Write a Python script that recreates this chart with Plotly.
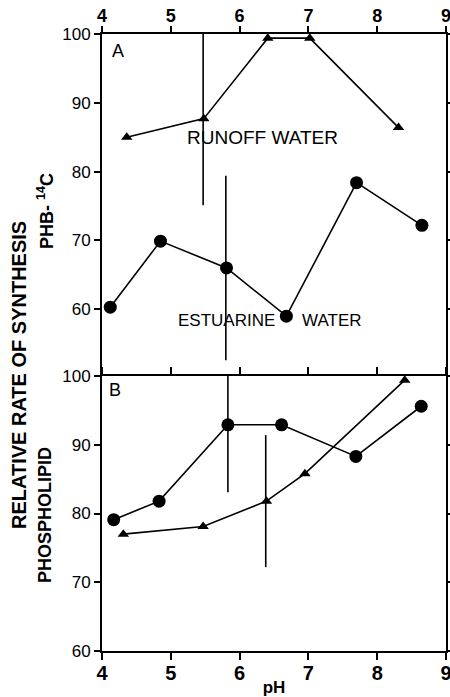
import plotly.graph_objects as go

# ---------------- data ----------------
# Panel A: PHB-14C
a_runoff_ph = [4.36, 5.48, 6.41, 7.02, 8.31]
a_runoff_val = [85.0, 87.7, 99.4, 99.4, 86.4]
a_estuarine_ph = [4.12, 4.85, 5.81, 6.68, 7.70, 8.65]
a_estuarine_val = [60.3, 69.9, 66.0, 59.0, 78.4, 72.2]
a_bar_ph = [5.47, 5.80]
a_bar_lo = [75.1, 52.6]
a_bar_hi = [100.0, 79.4]

# Panel B: Phospholipid
b_estuarine_ph = [4.17, 4.83, 5.83, 6.61, 7.69, 8.64]
b_estuarine_val = [79.1, 81.8, 92.9, 92.9, 88.3, 95.6]
b_runoff_ph = [4.31, 5.47, 6.39, 6.95, 8.40]
b_runoff_val = [77.0, 78.1, 81.8, 85.8, 99.4]
b_bar_ph = [5.83, 6.38]
b_bar_lo = [83.1, 72.2]
b_bar_hi = [100.0, 91.4]

x_ticks = [4, 5, 6, 7, 8, 9]
a_yticks = [60, 70, 80, 90, 100]
b_yticks = [60, 70, 80, 90, 100]

# ---------------- figure ----------------
FONT = "Liberation Sans, Arial, sans-serif"
W, H = 450, 697
L, R, T, B = 102, 4, 34, 46
plot_h = H - T - B
split = 275 / plot_h

fig = go.Figure()

def add_panel(xa, ya, runoff_ph, runoff_val, est_ph, est_val, bar_ph, bar_lo, bar_hi):
    for x, lo, hi in zip(bar_ph, bar_lo, bar_hi):
        fig.add_trace(go.Scatter(x=[x, x], y=[lo, hi], mode="lines",
                                 line=dict(color="black", width=1.6),
                                 xaxis=xa, yaxis=ya, showlegend=False,
                                 cliponaxis=False, hoverinfo="skip"))
    fig.add_trace(go.Scatter(x=runoff_ph, y=runoff_val, mode="lines+markers",
                             line=dict(color="black", width=1.6),
                             marker=dict(symbol="triangle-up", size=10, color="black"),
                             xaxis=xa, yaxis=ya, showlegend=False, cliponaxis=False))
    fig.add_trace(go.Scatter(x=est_ph, y=est_val, mode="lines+markers",
                             line=dict(color="black", width=1.6),
                             marker=dict(symbol="circle", size=13, color="black"),
                             xaxis=xa, yaxis=ya, showlegend=False, cliponaxis=False))

add_panel("x", "y", a_runoff_ph, a_runoff_val, a_estuarine_ph, a_estuarine_val,
          a_bar_ph, a_bar_lo, a_bar_hi)
add_panel("x2", "y2", b_runoff_ph, b_runoff_val, b_estuarine_ph, b_estuarine_val,
          b_bar_ph, b_bar_lo, b_bar_hi)

axis_common = dict(showgrid=False, zeroline=False, linecolor="black", linewidth=2,
                   ticks="outside", tickcolor="black", tickwidth=1.6,
                   showline=True, automargin=False, ticklabeloverflow="allow")

fig.update_layout(
    width=W, height=H,
    margin=dict(l=L, r=R, t=T, b=B),
    paper_bgcolor="white", plot_bgcolor="white",
    font=dict(family=FONT, color="black"),
    xaxis=dict(axis_common, domain=[0, 1], range=[4, 9], anchor="y", side="top",
               tickvals=x_ticks, ticklen=6, mirror=False, ticklabelstandoff=-3,
               tickfont=dict(size=18, family=FONT, weight="bold")),
    yaxis=dict(axis_common, domain=[split, 1], range=[50.3, 100], anchor="x",
               tickvals=a_yticks, ticklen=6, mirror="ticks",
               tickfont=dict(size=17, family=FONT)),
    xaxis2=dict(axis_common, domain=[0, 1], range=[4, 9], anchor="y2", side="bottom",
                tickvals=x_ticks, ticklen=7, mirror="ticks", ticklabelstandoff=-4,
                tickfont=dict(size=20, family=FONT, weight="bold"),
                title=dict(text="pH", font=dict(size=17, family=FONT, weight="bold"),
                           standoff=2)),
    yaxis2=dict(axis_common, domain=[0, split], range=[60, 100], anchor="x2",
                tickvals=b_yticks, ticklen=6, mirror="ticks",
                tickfont=dict(size=17, family=FONT)),
)

def px_to_paper(px, py):
    return (px - L) / (W - L - R), (H - B - py) / plot_h

annots = []
ax, ay = px_to_paper(19, 375)
annots.append(dict(text="RELATIVE RATE OF SYNTHESIS", x=ax, y=ay, xref="paper", yref="paper",
                   textangle=-90, showarrow=False, xanchor="center", yanchor="middle",
                   font=dict(size=20, family=FONT, weight="bold")))
ax, ay = px_to_paper(45, 211)
annots.append(dict(text="PHB- <sup>14</sup>C", x=ax, y=ay, xref="paper", yref="paper",
                   textangle=-90, showarrow=False, xanchor="center", yanchor="middle",
                   font=dict(size=18, family=FONT, weight="bold")))
ax, ay = px_to_paper(45, 515)
annots.append(dict(text="PHOSPHOLIPID", x=ax, y=ay, xref="paper", yref="paper",
                   textangle=-90, showarrow=False, xanchor="center", yanchor="middle",
                   font=dict(size=18, family=FONT, weight="bold")))
ax, ay = px_to_paper(118, 51)
annots.append(dict(text="A", x=ax, y=ay, xref="paper", yref="paper", showarrow=False,
                   xanchor="center", yanchor="middle", font=dict(size=18, family=FONT)))
ax, ay = px_to_paper(115, 390)
annots.append(dict(text="B", x=ax, y=ay, xref="paper", yref="paper", showarrow=False,
                   xanchor="center", yanchor="middle", font=dict(size=18, family=FONT)))
annots.append(dict(text="RUNOFF WATER", x=6.34, y=85.0, xref="x", yref="y", showarrow=False,
                   xanchor="center", yanchor="middle", font=dict(size=19, family=FONT)))
annots.append(dict(text="ESTUARINE", x=5.81, y=58.4, xref="x", yref="y", showarrow=False,
                   xanchor="center", yanchor="middle", font=dict(size=17, family=FONT)))
annots.append(dict(text="WATER", x=7.35, y=58.4, xref="x", yref="y", showarrow=False,
                   xanchor="center", yanchor="middle", font=dict(size=17, family=FONT)))

fig.update_layout(annotations=annots)

fig.write_html("out.html", config={"displayModeBar": False},
               post_script="document.body.style.margin='0';document.body.style.overflow='hidden';")
